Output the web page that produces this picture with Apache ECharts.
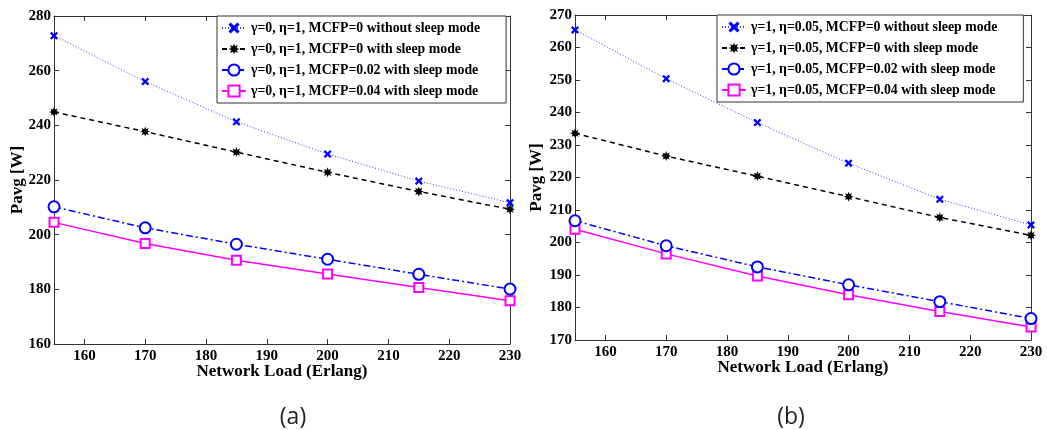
<!DOCTYPE html>
<html lang="en">
<head>
  <meta charset="UTF-8">
  <title>Pavg vs Network Load - ECharts</title>
  <script src="https://cdn.jsdelivr.net/npm/echarts@6/dist/echarts.min.js"></script>
  <style>
    html, body { margin: 0; padding: 0; background: #fff; }
  </style>
</head>
<body>
  <!-- Chart container -->
  <div id="main" style="width: 1047px; height: 430px;"></div>

  <script>
    // Shared x values and tick labels
    const loads = [155, 170, 185, 200, 215, 230];
    const xTicks = [160, 170, 180, 190, 200, 210, 220, 230];

    // Panel (a) values
    const aNames = [
      'γ=0, η=1, MCFP=0 without sleep mode',
      'γ=0, η=1, MCFP=0 with sleep mode',
      'γ=0, η=1, MCFP=0.02 with sleep mode',
      'γ=0, η=1, MCFP=0.04 with sleep mode'
    ];
    const aNoSleep = [272.8, 256.0, 241.3, 229.5, 219.6, 211.7];
    const aSleep   = [244.9, 237.7, 230.2, 222.8, 215.8, 209.3];
    const aMcfp02  = [210.2, 202.5, 196.5, 191.0, 185.5, 180.1];
    const aMcfp04  = [204.5, 196.8, 190.6, 185.6, 180.7, 175.8];

    // Panel (b) values
    const bNames = [
      'γ=1, η=0.05, MCFP=0 without sleep mode',
      'γ=1, η=0.05, MCFP=0 with sleep mode',
      'γ=1, η=0.05, MCFP=0.02 with sleep mode',
      'γ=1, η=0.05, MCFP=0.04 with sleep mode'
    ];
    const bNoSleep = [265.4, 250.4, 236.9, 224.4, 213.3, 205.4];
    const bSleep   = [233.6, 226.6, 220.4, 214.1, 207.7, 202.2];
    const bMcfp02  = [206.7, 199.0, 192.5, 187.0, 181.8, 176.6];
    const bMcfp04  = [204.1, 196.5, 189.7, 183.9, 178.8, 174.0];

    let myChart = echarts.init(document.getElementById('main'));

    // marker shapes (matlab-ish x and asterisk)
    const crossPath = 'path://M0,2 L2,0 L5,3 L8,0 L10,2 L7,5 L10,8 L8,10 L5,7 L2,10 L0,8 L3,5 Z';
    function starPath() {
      let pts = [];
      for (let k = 0; k < 16; k++) {
        const r = k % 2 === 0 ? 5 : 2.6;
        const a = k * Math.PI / 8;
        pts.push((5 + r * Math.cos(a)).toFixed(2) + ',' + (5 + r * Math.sin(a)).toFixed(2));
      }
      return 'path://M' + pts.join(' L') + ' Z';
    }

    const styles = [
      { symbol: crossPath, size: 8, color: '#0000ff', line: { type: [1, 2], width: 1, color: '#3a3aff' } },
      { symbol: starPath(), size: 10, color: '#000000', line: { type: [5, 4], width: 1.5, color: '#000000' } },
      { symbol: 'emptyCircle', size: 11, color: '#0000ff', line: { type: [7, 3, 2, 3], width: 1.5, color: '#0000ff' } },
      { symbol: 'emptyRect', size: 9, color: '#ff00ff', line: { type: 'solid', width: 1.5, color: '#ff00ff' } }
    ];

    function makeSeries(names, values, axisIndex) {
      return values.map((vals, i) => ({
        name: names[i],
        type: 'line',
        xAxisIndex: axisIndex,
        yAxisIndex: axisIndex,
        data: loads.map((x, j) => [x, vals[j]]),
        symbol: styles[i].symbol,
        symbolSize: styles[i].size,
        itemStyle: { color: styles[i].color, borderWidth: 1.5 },
        lineStyle: styles[i].line,
        z: 10 - i
      }));
    }

    const font = 'Liberation Serif';
    const axisLine = { show: true, lineStyle: { color: '#333', width: 1 } };
    const tick = { show: true, inside: true, length: 5, lineStyle: { color: '#333' } };
    const labelStyle = { fontFamily: font, fontWeight: 'bold', fontSize: 15, color: '#000' };
    const nameStyle = { fontFamily: font, fontWeight: 'bold', fontSize: 17, color: '#000' };

    function xAxes(gridIndex) {
      return [
        {
          gridIndex: gridIndex, type: 'value', min: 155, max: 230, position: 'bottom',
          name: 'Network Load (Erlang)', nameLocation: 'middle', nameGap: 19, nameMoveOverlap: false,
          nameTextStyle: nameStyle,
          axisLine: axisLine, splitLine: { show: false },
          axisTick: Object.assign({ customValues: xTicks }, tick),
          axisLabel: Object.assign({ customValues: xTicks, margin: 5 }, labelStyle)
        },
        {
          gridIndex: gridIndex, type: 'value', min: 155, max: 230, position: 'top',
          axisLine: axisLine, splitLine: { show: false },
          axisTick: Object.assign({ customValues: xTicks }, tick),
          axisLabel: { show: false }
        }
      ];
    }

    function yAxes(gridIndex, min, max, interval, gap) {
      return [
        {
          gridIndex: gridIndex, type: 'value', min: min, max: max, interval: interval, position: 'left',
          name: 'Pavg [W]', nameLocation: 'middle', nameGap: gap, nameMoveOverlap: false,
          nameTextStyle: nameStyle,
          axisLine: axisLine, axisTick: tick, splitLine: { show: false },
          axisLabel: Object.assign({ margin: 3 }, labelStyle)
        },
        {
          gridIndex: gridIndex, type: 'value', min: min, max: max, interval: interval, position: 'right',
          axisLine: axisLine, axisTick: tick, splitLine: { show: false },
          axisLabel: { show: false }
        }
      ];
    }

    function legend(names, left, top) {
      return {
        data: names,
        orient: 'vertical',
        left: left,
        top: top,
        itemWidth: 24,
        itemHeight: 14,
        itemGap: 7,
        padding: [5, 26, 5, 4],
        borderColor: '#333',
        borderWidth: 1,
        backgroundColor: '#fff',
        textStyle: { fontFamily: font, fontWeight: 'bold', fontSize: 13.8, color: '#000' }
      };
    }

    const options = {
      animation: false,
      grid: [
        { left: 54, top: 16, width: 456, height: 328 },
        { left: 575, top: 15, width: 456, height: 325 }
      ],
      xAxis: xAxes(0).concat(xAxes(1)),
      yAxis: yAxes(0, 160, 280, 20, 28).concat(yAxes(1, 170, 270, 10, 30)),
      legend: [legend(aNames, 217, 16), legend(bNames, 717, 15)],
      series: makeSeries(aNames, [aNoSleep, aSleep, aMcfp02, aMcfp04], 0)
        .concat(makeSeries(bNames, [bNoSleep, bSleep, bMcfp02, bMcfp04], 2)),
      graphic: [
        { type: 'text', x: 293, y: 417, style: { text: '(a)', font: '23px "Open Sans"', fill: '#222', align: 'center', verticalAlign: 'middle' } },
        { type: 'text', x: 791, y: 417, style: { text: '(b)', font: '23px "Open Sans"', fill: '#222', align: 'center', verticalAlign: 'middle' } }
      ]
    };

    myChart.setOption(options);
  </script>
</body>
</html>
